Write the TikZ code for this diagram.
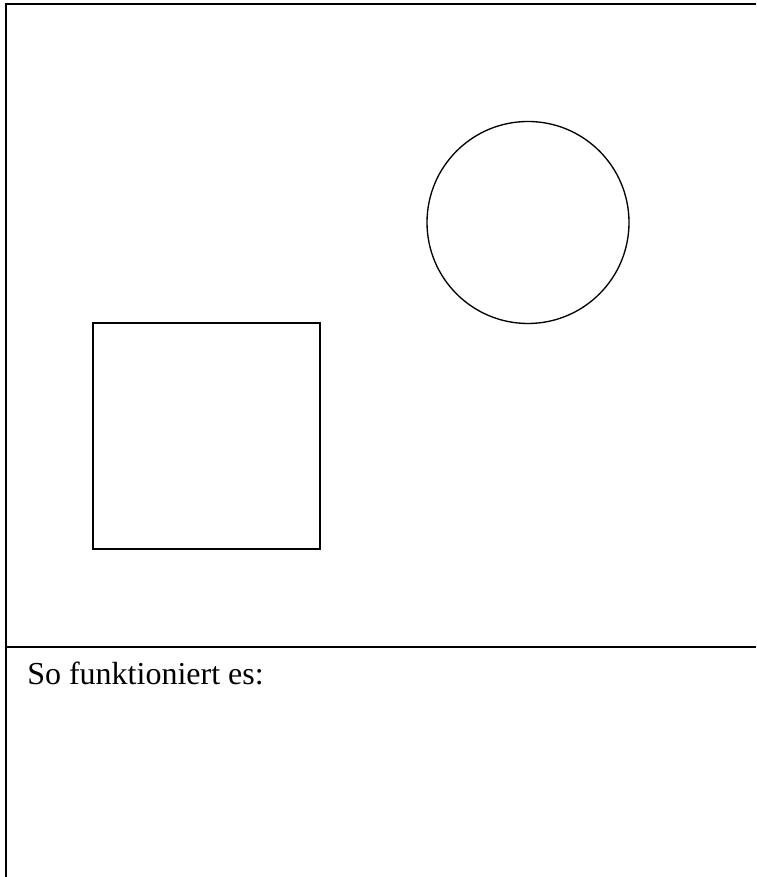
\documentclass[tikz,border=0pt]{standalone}
\usepackage{fontspec}
\setmainfont{Liberation Serif}
\usetikzlibrary{positioning}
\tikzset{
  frameline/.style={draw=black,line width=1.1pt},
  shapeline/.style={draw=black,line width=1pt},
  caption/.style={inner sep=0pt,anchor=base west,font=\fontsize{24}{28}\selectfont},
}
\begin{document}
\begin{tikzpicture}[x=0.75pt,y=0.75pt]
  \useasboundingbox (0,0) rectangle (756,877);
  % frame and divider
  \coordinate (tl) at (6,873);
  \coordinate (tr) at (756,873);
  \coordinate (bl) at (6,0);
  \coordinate (dl) at (6,230);
  \coordinate (dr) at (756,230);
  \draw[frameline] (tr) -- (tl) -- (bl);
  \draw[frameline] (dl) -- (dr);
  % shapes
  \draw[shapeline] (93,554) rectangle (320,328);
  \draw[shapeline] (528,654.5) circle (101);
  % caption
  \node[caption] (howto) at (27,192) {So funktioniert es:};
\end{tikzpicture}
\end{document}
